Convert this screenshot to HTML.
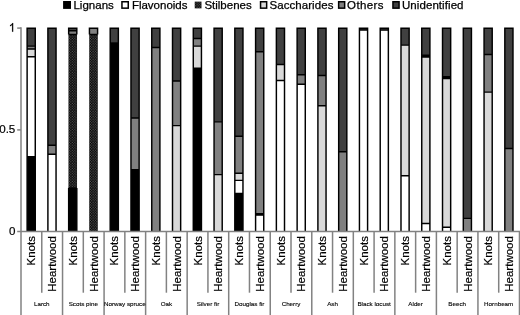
<!DOCTYPE html>
<html><head><meta charset="utf-8"><title>chart</title><style>html,body{margin:0;padding:0;background:#fff}body{width:520px;height:315px;overflow:hidden}svg{display:block;filter:grayscale(1)}svg text{font-family:"Liberation Sans",sans-serif}</style></head><body>
<svg width="520" height="315" viewBox="0 0 520 315" font-family="Liberation Sans, sans-serif">
<defs><pattern id="st" width="2.6" height="2.6" patternUnits="userSpaceOnUse"><rect width="2.6" height="2.6" fill="#000"/><rect x="0.2" y="0.2" width="1" height="1" fill="#787878"/><rect x="1.5" y="1.5" width="1" height="1" fill="#787878"/></pattern><clipPath id="cb"><rect x="0" y="0" width="520" height="231"/></clipPath></defs>
<rect width="520" height="315" fill="#fff"/>
<g clip-path="url(#cb)">
<rect x="27.12" y="156.68" width="8.15" height="77.52" fill="#000"/>
<rect x="27.12" y="56.71" width="8.15" height="99.97" fill="#fff"/>
<rect x="27.12" y="49.08" width="8.15" height="7.63" fill="#d9d9d9"/>
<rect x="27.12" y="46.13" width="8.15" height="2.95" fill="#808080"/>
<rect x="27.12" y="28.33" width="8.15" height="17.80" fill="#404040"/>
<path d="M27.12 156.68H35.27M27.12 56.71H35.27M27.12 49.08H35.27M27.12 46.13H35.27M27.12 234.20V28.33H35.27V234.20" fill="none" stroke="#000" stroke-width="1.45" stroke-linejoin="miter"/>
<rect x="47.90" y="154.24" width="8.15" height="79.96" fill="#fff"/>
<rect x="47.90" y="145.28" width="8.15" height="8.96" fill="#808080"/>
<rect x="47.90" y="28.33" width="8.15" height="116.96" fill="#404040"/>
<path d="M47.90 154.24H56.05M47.90 145.28H56.05M47.90 234.20V28.33H56.05V234.20" fill="none" stroke="#000" stroke-width="1.45" stroke-linejoin="miter"/>
<rect x="68.66" y="187.94" width="8.15" height="46.26" fill="#000"/>
<rect x="68.44" y="34.52" width="8.60" height="153.41" fill="url(#st)"/>
<rect x="68.66" y="30.65" width="8.15" height="3.87" fill="#808080"/>
<rect x="68.66" y="28.33" width="8.15" height="2.33" fill="#404040"/>
<path d="M68.66 187.94H76.81M68.66 34.52H76.81M68.66 30.65H76.81M68.66 234.20V187.94M76.81 234.20V187.94M68.66 34.52V28.33H76.81V34.52" fill="none" stroke="#000" stroke-width="1.45" stroke-linejoin="miter"/>
<rect x="89.21" y="34.52" width="8.60" height="199.68" fill="url(#st)"/>
<rect x="89.44" y="28.33" width="8.15" height="6.20" fill="#808080"/>
<path d="M89.44 34.52H97.59M89.44 34.52V28.33H97.59V34.52" fill="none" stroke="#000" stroke-width="1.45" stroke-linejoin="miter"/>
<rect x="110.20" y="42.87" width="8.15" height="191.33" fill="#000"/>
<rect x="110.20" y="28.33" width="8.15" height="14.54" fill="#404040"/>
<path d="M110.20 42.87H118.35M110.20 234.20V28.33H118.35V234.20" fill="none" stroke="#000" stroke-width="1.45" stroke-linejoin="miter"/>
<rect x="130.97" y="169.71" width="8.15" height="64.49" fill="#000"/>
<rect x="130.97" y="118.00" width="8.15" height="51.71" fill="#808080"/>
<rect x="130.97" y="28.33" width="8.15" height="89.67" fill="#404040"/>
<path d="M130.97 169.71H139.12M130.97 118.00H139.12M130.97 234.20V28.33H139.12V234.20" fill="none" stroke="#000" stroke-width="1.45" stroke-linejoin="miter"/>
<rect x="151.75" y="47.55" width="8.15" height="186.65" fill="#808080"/>
<rect x="151.75" y="28.33" width="8.15" height="19.23" fill="#404040"/>
<path d="M151.75 47.55H159.90M151.75 234.20V28.33H159.90V234.20" fill="none" stroke="#000" stroke-width="1.45" stroke-linejoin="miter"/>
<rect x="172.51" y="125.61" width="8.15" height="108.59" fill="#d9d9d9"/>
<rect x="172.51" y="81.04" width="8.15" height="44.57" fill="#808080"/>
<rect x="172.51" y="28.33" width="8.15" height="52.72" fill="#404040"/>
<path d="M172.51 125.61H180.66M172.51 81.04H180.66M172.51 234.20V28.33H180.66V234.20" fill="none" stroke="#000" stroke-width="1.45" stroke-linejoin="miter"/>
<rect x="193.28" y="68.32" width="8.15" height="165.88" fill="#000"/>
<rect x="193.28" y="46.13" width="8.15" height="22.19" fill="#d9d9d9"/>
<rect x="193.28" y="38.49" width="8.15" height="7.64" fill="#808080"/>
<rect x="193.28" y="28.33" width="8.15" height="10.17" fill="#404040"/>
<path d="M193.28 68.32H201.44M193.28 46.13H201.44M193.28 38.49H201.44M193.28 234.20V28.33H201.44V234.20" fill="none" stroke="#000" stroke-width="1.45" stroke-linejoin="miter"/>
<rect x="214.06" y="174.60" width="8.15" height="59.60" fill="#d9d9d9"/>
<rect x="214.06" y="121.87" width="8.15" height="52.73" fill="#808080"/>
<rect x="214.06" y="28.33" width="8.15" height="93.54" fill="#404040"/>
<path d="M214.06 174.60H222.21M214.06 121.87H222.21M214.06 234.20V28.33H222.21V234.20" fill="none" stroke="#000" stroke-width="1.45" stroke-linejoin="miter"/>
<rect x="234.82" y="193.53" width="8.15" height="40.67" fill="#000"/>
<rect x="234.82" y="180.36" width="8.15" height="13.17" fill="#fff"/>
<rect x="234.82" y="173.26" width="8.15" height="7.11" fill="#d9d9d9"/>
<rect x="234.82" y="136.32" width="8.15" height="36.93" fill="#808080"/>
<rect x="234.82" y="28.33" width="8.15" height="108.00" fill="#404040"/>
<path d="M234.82 193.53H242.97M234.82 180.36H242.97M234.82 173.26H242.97M234.82 136.32H242.97M234.82 234.20V28.33H242.97V234.20" fill="none" stroke="#000" stroke-width="1.45" stroke-linejoin="miter"/>
<rect x="255.59" y="215.10" width="8.15" height="19.10" fill="#fff"/>
<rect x="255.59" y="213.61" width="8.15" height="1.49" fill="#000"/>
<rect x="255.59" y="51.83" width="8.15" height="161.78" fill="#808080"/>
<rect x="255.59" y="28.33" width="8.15" height="23.50" fill="#404040"/>
<path d="M255.59 215.10H263.75M255.59 213.61H263.75M255.59 51.83H263.75M255.59 234.20V28.33H263.75V234.20" fill="none" stroke="#000" stroke-width="1.45" stroke-linejoin="miter"/>
<rect x="276.37" y="80.54" width="8.15" height="153.66" fill="#fff"/>
<rect x="276.37" y="64.55" width="8.15" height="15.98" fill="#d9d9d9"/>
<rect x="276.37" y="28.33" width="8.15" height="36.23" fill="#404040"/>
<path d="M276.37 80.54H284.51M276.37 64.55H284.51M276.37 234.20V28.33H284.51V234.20" fill="none" stroke="#000" stroke-width="1.45" stroke-linejoin="miter"/>
<rect x="297.13" y="84.34" width="8.15" height="149.86" fill="#fff"/>
<rect x="297.13" y="74.71" width="8.15" height="9.63" fill="#808080"/>
<rect x="297.13" y="28.33" width="8.15" height="46.39" fill="#404040"/>
<path d="M297.13 84.34H305.28M297.13 74.71H305.28M297.13 234.20V28.33H305.28V234.20" fill="none" stroke="#000" stroke-width="1.45" stroke-linejoin="miter"/>
<rect x="317.90" y="105.82" width="8.15" height="128.38" fill="#d9d9d9"/>
<rect x="317.90" y="75.45" width="8.15" height="30.38" fill="#808080"/>
<rect x="317.90" y="28.33" width="8.15" height="47.12" fill="#404040"/>
<path d="M317.90 105.82H326.05M317.90 75.45H326.05M317.90 234.20V28.33H326.05V234.20" fill="none" stroke="#000" stroke-width="1.45" stroke-linejoin="miter"/>
<rect x="338.68" y="151.80" width="8.15" height="82.40" fill="#808080"/>
<rect x="338.68" y="28.33" width="8.15" height="123.47" fill="#404040"/>
<path d="M338.68 151.80H346.82M338.68 234.20V28.33H346.82V234.20" fill="none" stroke="#000" stroke-width="1.45" stroke-linejoin="miter"/>
<rect x="359.44" y="29.94" width="8.15" height="204.26" fill="#fff"/>
<rect x="359.44" y="28.33" width="8.15" height="1.62" fill="#404040"/>
<path d="M359.44 29.94H367.59M359.44 234.20V28.33H367.59V234.20" fill="none" stroke="#000" stroke-width="1.45" stroke-linejoin="miter"/>
<rect x="380.21" y="30.14" width="8.15" height="204.06" fill="#fff"/>
<rect x="380.21" y="28.33" width="8.15" height="1.82" fill="#404040"/>
<path d="M380.21 30.14H388.36M380.21 234.20V28.33H388.36V234.20" fill="none" stroke="#000" stroke-width="1.45" stroke-linejoin="miter"/>
<rect x="400.99" y="175.82" width="8.15" height="58.38" fill="#fff"/>
<rect x="400.99" y="45.11" width="8.15" height="130.71" fill="#d9d9d9"/>
<rect x="400.99" y="28.33" width="8.15" height="16.78" fill="#404040"/>
<path d="M400.99 175.82H409.13M400.99 45.11H409.13M400.99 234.20V28.33H409.13V234.20" fill="none" stroke="#000" stroke-width="1.45" stroke-linejoin="miter"/>
<rect x="421.75" y="223.46" width="8.15" height="10.74" fill="#fff"/>
<rect x="421.75" y="57.00" width="8.15" height="166.46" fill="#d9d9d9"/>
<rect x="421.75" y="55.29" width="8.15" height="1.71" fill="#000"/>
<rect x="421.75" y="28.33" width="8.15" height="26.96" fill="#404040"/>
<path d="M421.75 223.46H429.90M421.75 57.00H429.90M421.75 55.29H429.90M421.75 234.20V28.33H429.90V234.20" fill="none" stroke="#000" stroke-width="1.45" stroke-linejoin="miter"/>
<rect x="442.52" y="227.33" width="8.15" height="6.87" fill="#fff"/>
<rect x="442.52" y="78.40" width="8.15" height="148.93" fill="#d9d9d9"/>
<rect x="442.52" y="76.61" width="8.15" height="1.79" fill="#000"/>
<rect x="442.52" y="28.33" width="8.15" height="48.28" fill="#404040"/>
<path d="M442.52 227.33H450.67M442.52 78.40H450.67M442.52 76.61H450.67M442.52 234.20V28.33H450.67V234.20" fill="none" stroke="#000" stroke-width="1.45" stroke-linejoin="miter"/>
<rect x="463.30" y="218.37" width="8.15" height="15.83" fill="#808080"/>
<rect x="463.30" y="28.33" width="8.15" height="190.05" fill="#404040"/>
<path d="M463.30 218.37H471.44M463.30 234.20V28.33H471.44V234.20" fill="none" stroke="#000" stroke-width="1.45" stroke-linejoin="miter"/>
<rect x="484.06" y="92.14" width="8.15" height="142.06" fill="#d9d9d9"/>
<rect x="484.06" y="54.48" width="8.15" height="37.67" fill="#808080"/>
<rect x="484.06" y="28.33" width="8.15" height="26.15" fill="#404040"/>
<path d="M484.06 92.14H492.21M484.06 54.48H492.21M484.06 234.20V28.33H492.21V234.20" fill="none" stroke="#000" stroke-width="1.45" stroke-linejoin="miter"/>
<rect x="504.83" y="148.54" width="8.15" height="85.66" fill="#808080"/>
<rect x="504.83" y="28.33" width="8.15" height="120.21" fill="#404040"/>
<path d="M504.83 148.54H512.98M504.83 234.20V28.33H512.98V234.20" fill="none" stroke="#000" stroke-width="1.45" stroke-linejoin="miter"/>
</g>
<g stroke="#828282" stroke-width="1.5" fill="none">
<path d="M21.0 27.35 V315"/>
<path d="M17.2 231.5 H520"/>
<path d="M17.2 28.1 H21.0"/>
<path d="M17.2 129.90 H21.0"/>
<path d="M41.77 231.2 V292.7"/>
<path d="M62.54 231.2 V315"/>
<path d="M83.31 231.2 V292.7"/>
<path d="M104.08 231.2 V315"/>
<path d="M124.85 231.2 V292.7"/>
<path d="M145.62 231.2 V315"/>
<path d="M166.39 231.2 V292.7"/>
<path d="M187.16 231.2 V315"/>
<path d="M207.93 231.2 V292.7"/>
<path d="M228.70 231.2 V315"/>
<path d="M249.47 231.2 V292.7"/>
<path d="M270.24 231.2 V315"/>
<path d="M291.01 231.2 V292.7"/>
<path d="M311.78 231.2 V315"/>
<path d="M332.55 231.2 V292.7"/>
<path d="M353.32 231.2 V315"/>
<path d="M374.09 231.2 V292.7"/>
<path d="M394.86 231.2 V315"/>
<path d="M415.63 231.2 V292.7"/>
<path d="M436.40 231.2 V315"/>
<path d="M457.17 231.2 V292.7"/>
<path d="M477.94 231.2 V315"/>
<path d="M498.71 231.2 V292.7"/>
<path d="M519.48 231.2 V315"/>
</g>
<g font-size="11.6" fill="#000" text-anchor="end" stroke="#000" stroke-width="0.2">
<path transform="translate(8.72 31.65) scale(0.005811 -0.005811)" stroke-width="30" d="M763 0H583V1147Q518 1085 412.5 1023T223 930V1104Q373 1174.5 485.5 1275T645 1470H763V0Z"/>
<text x="15.3" y="133.2">0.5</text>
<text x="15.5" y="235.0">0</text>
</g>
<g font-size="11.5" fill="#000" stroke="#000" stroke-width="0.25">
<rect x="63.85" y="1.75" width="6.40" height="6.4" fill="#000" stroke="#000" stroke-width="1.5"/>
<text x="73.4" y="8.65" textLength="40.4">Lignans</text>
<rect x="121.95" y="1.75" width="6.30" height="6.4" fill="#fff" stroke="#000" stroke-width="1.5"/>
<text x="131.9" y="8.65">Flavonoids</text>
<rect x="194.7" y="1.6" width="6.80" height="6.8" fill="url(#st)" stroke="none"/>
<text x="204.4" y="8.65">Stilbenes</text>
<rect x="260.55" y="1.75" width="6.10" height="6.4" fill="#d9d9d9" stroke="#000" stroke-width="1.5"/>
<text x="269.5" y="8.65" textLength="63.9">Saccharides</text>
<rect x="338.65" y="1.75" width="6.00" height="6.4" fill="#808080" stroke="#000" stroke-width="1.5"/>
<text x="347.1" y="8.65" textLength="36.3">Others</text>
<rect x="392.95" y="1.75" width="6.10" height="6.4" fill="#404040" stroke="#000" stroke-width="1.5"/>
<text x="402.0" y="8.65" textLength="61.5">Unidentified</text>
</g>
<g font-size="11.5" fill="#000" stroke="#000" stroke-width="0.2">
<text transform="translate(35.38 236.1) rotate(-90)" text-anchor="end">Knots</text>
<text transform="translate(56.16 236.1) rotate(-90)" text-anchor="end">Heartwood</text>
<text transform="translate(76.92 236.1) rotate(-90)" text-anchor="end">Knots</text>
<text transform="translate(97.69 236.1) rotate(-90)" text-anchor="end">Heartwood</text>
<text transform="translate(118.47 236.1) rotate(-90)" text-anchor="end">Knots</text>
<text transform="translate(139.24 236.1) rotate(-90)" text-anchor="end">Heartwood</text>
<text transform="translate(160.00 236.1) rotate(-90)" text-anchor="end">Knots</text>
<text transform="translate(180.78 236.1) rotate(-90)" text-anchor="end">Heartwood</text>
<text transform="translate(201.54 236.1) rotate(-90)" text-anchor="end">Knots</text>
<text transform="translate(222.31 236.1) rotate(-90)" text-anchor="end">Heartwood</text>
<text transform="translate(243.09 236.1) rotate(-90)" text-anchor="end">Knots</text>
<text transform="translate(263.86 236.1) rotate(-90)" text-anchor="end">Heartwood</text>
<text transform="translate(284.62 236.1) rotate(-90)" text-anchor="end">Knots</text>
<text transform="translate(305.39 236.1) rotate(-90)" text-anchor="end">Heartwood</text>
<text transform="translate(326.17 236.1) rotate(-90)" text-anchor="end">Knots</text>
<text transform="translate(346.94 236.1) rotate(-90)" text-anchor="end">Heartwood</text>
<text transform="translate(367.70 236.1) rotate(-90)" text-anchor="end">Knots</text>
<text transform="translate(388.47 236.1) rotate(-90)" text-anchor="end">Heartwood</text>
<text transform="translate(409.25 236.1) rotate(-90)" text-anchor="end">Knots</text>
<text transform="translate(430.01 236.1) rotate(-90)" text-anchor="end">Heartwood</text>
<text transform="translate(450.78 236.1) rotate(-90)" text-anchor="end">Knots</text>
<text transform="translate(471.56 236.1) rotate(-90)" text-anchor="end">Heartwood</text>
<text transform="translate(492.32 236.1) rotate(-90)" text-anchor="end">Knots</text>
<text transform="translate(513.10 236.1) rotate(-90)" text-anchor="end">Heartwood</text>
</g>
<g font-size="6.25" fill="#000" text-anchor="middle" stroke="#000" stroke-width="0.12">
<text x="41.77" y="306.3">Larch</text>
<text x="83.31" y="306.3">Scots pine</text>
<text x="124.85" y="306.3">Norway spruce</text>
<text x="166.39" y="306.3">Oak</text>
<text x="207.93" y="306.3">Silver fir</text>
<text x="249.47" y="306.3">Douglas fir</text>
<text x="291.01" y="306.3">Cherry</text>
<text x="332.55" y="306.3">Ash</text>
<text x="374.09" y="306.3">Black locust</text>
<text x="415.63" y="306.3">Alder</text>
<text x="457.17" y="306.3">Beech</text>
<text x="498.71" y="306.3">Hornbeam</text>
</g>
</svg>
</body></html>
